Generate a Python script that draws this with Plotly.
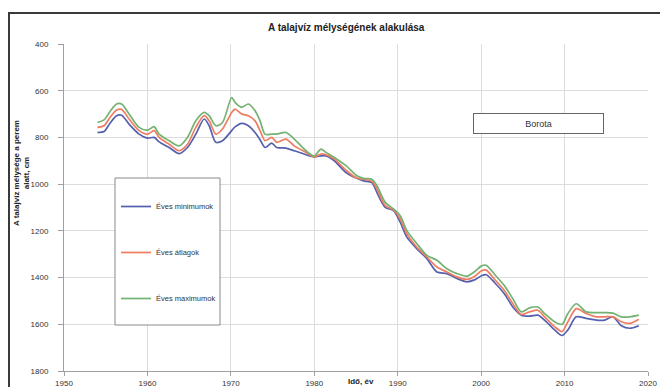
import plotly.graph_objects as go

years = [1954.0, 1954.8, 1955.5, 1956.3, 1956.9, 1957.8, 1959.0, 1960.0, 1960.8, 1961.4,
         1962.6, 1963.8, 1964.8, 1965.8, 1966.8, 1967.4, 1968.2, 1969.0, 1970.1, 1970.5,
         1971.3, 1972.1, 1972.9, 1973.5, 1974.1, 1974.9, 1975.5, 1976.6, 1977.6, 1979.0,
         1980.0, 1980.8, 1981.4, 1982.4, 1983.8, 1985.1, 1985.9, 1986.9, 1987.5, 1988.5,
         1989.5, 1990.3, 1991.1, 1992.3, 1993.5, 1994.7, 1995.9, 1997.1, 1998.3, 1999.2,
         2000.0, 2000.6, 2001.6, 2002.8, 2003.8, 2004.8, 2005.8, 2006.8, 2007.6, 2008.8,
         2009.7, 2010.4, 2011.4, 2012.6, 2013.8, 2014.8, 2015.8, 2016.8, 2017.8, 2018.9]

eves_minimumok = [779, 775, 740, 707, 705, 743, 786, 803, 800, 819,
                  843, 869, 843, 786, 721, 750, 821, 814, 771, 755,
                  740, 750, 779, 810, 843, 824, 843, 846, 857, 874,
                  883, 879, 879, 900, 950, 975, 986, 993, 1035, 1099,
                  1113, 1163, 1227, 1277, 1319, 1376, 1383, 1404, 1418, 1410,
                  1393, 1388, 1421, 1470, 1526, 1561, 1565, 1561, 1582, 1624,
                  1648, 1624, 1568, 1575, 1582, 1582, 1568, 1606, 1617, 1606]

eves_atlagok = [757, 750, 715, 683, 680, 721, 771, 786, 771, 800,
                829, 857, 829, 757, 707, 729, 786, 764, 693, 679,
                700, 707, 729, 771, 814, 800, 821, 807, 836, 864,
                883, 871, 874, 893, 940, 975, 979, 988, 1020, 1092,
                1110, 1149, 1213, 1270, 1312, 1355, 1376, 1397, 1408, 1395,
                1372, 1368, 1407, 1456, 1512, 1558, 1547, 1540, 1568, 1610,
                1631, 1589, 1533, 1554, 1568, 1568, 1568, 1589, 1596, 1578]

eves_maximumok = [736, 725, 690, 657, 657, 700, 757, 769, 754, 786,
                  814, 836, 800, 729, 693, 707, 750, 736, 629, 650,
                  671, 657, 686, 729, 786, 786, 786, 779, 807, 857,
                  879, 850, 864, 886, 921, 964, 975, 979, 1006, 1078,
                  1106, 1135, 1199, 1255, 1305, 1326, 1362, 1383, 1394, 1375,
                  1351, 1347, 1386, 1435, 1491, 1547, 1530, 1526, 1554, 1589,
                  1600, 1554, 1512, 1547, 1550, 1550, 1552, 1568, 1568, 1561]

series_names = ["Éves minimumok", "Éves átlagok", "Éves maximumok"]
series_values = [eves_minimumok, eves_atlagok, eves_maximumok]
colors = ["#5560ae", "#f07c60", "#74b272"]

x_ticks = [1950, 1960, 1970, 1980, 1990, 2000, 2010, 2020]
y_ticks = [400, 600, 800, 1000, 1200, 1400, 1600, 1800]

FONT = "Liberation Sans, Arial, sans-serif"

# plot area in pixels: x 64..648, y 44..371
L, R, T, B = 64, 12, 44, 16
W, H = 660, 387
PW, PH = W - L - R, H - T - B


def px_x(p):
    return (p - L) / PW


def px_y(p):
    return (H - B - p) / PH


fig = go.Figure()
for i, (name, vals, col) in enumerate(zip(series_names, series_values, colors)):
    fig.add_trace(go.Scatter(
        x=years, y=vals, name=name, mode="lines",
        line=dict(color=col, width=1.7, shape="spline", smoothing=0.8),
        legendgroup=f"g{i}",
    ))

fig.update_layout(
    width=W, height=H,
    margin=dict(l=L, r=R, t=T, b=B, autoexpand=False),
    paper_bgcolor="white", plot_bgcolor="white",
    font=dict(family=FONT, size=8, color="#333333"),
    showlegend=True,
    legend=dict(
        x=px_x(116), y=px_y(192), xanchor="left", yanchor="top",
        borderwidth=0, bgcolor="rgba(0,0,0,0)",
        font=dict(size=7.5, color="#333333"),
        tracegroupgap=27, itemwidth=30,
    ),
)

fig.update_xaxes(
    range=[1950, 2020], tickvals=x_ticks, ticktext=[str(v) for v in x_ticks],
    showgrid=True, gridcolor="#dcdcdc", gridwidth=1,
    showline=True, linecolor="#a0a0a0", linewidth=1,
    ticks="outside", ticklen=4, tickcolor="#a0a0a0",
    zeroline=False, automargin=False,
    tickfont=dict(size=8, color="#333333"),
)
fig.update_yaxes(
    range=[1800, 400], tickvals=y_ticks, ticktext=[str(v) for v in y_ticks],
    showgrid=True, gridcolor="#dcdcdc", gridwidth=1,
    showline=True, linecolor="#a0a0a0", linewidth=1,
    ticks="outside", ticklen=5, tickcolor="#a0a0a0",
    ticklabelstandoff=8,
    zeroline=False, automargin=False,
    tickfont=dict(size=8, color="#333333"),
)

# outer chart frame
fig.add_shape(type="rect", xref="paper", yref="paper",
              x0=px_x(9), x1=px_x(667), y0=px_y(392), y1=px_y(13),
              line=dict(color="#3a3a3a", width=2), layer="below")

# legend frame
fig.add_shape(type="rect", xref="paper", yref="paper",
              x0=px_x(115), x1=px_x(220), y0=px_y(325), y1=px_y(178),
              line=dict(color="#8a8a8a", width=1), fillcolor="white",
              layer="above")

# title
fig.add_annotation(text="<b>A talajvíz mélységének alakulása</b>",
                   xref="paper", yref="paper", x=px_x(346), y=px_y(27),
                   xanchor="center", yanchor="middle",
                   showarrow=False, font=dict(size=10, color="#222222"))

# y axis title
fig.add_annotation(text="<b>A talajvíz mélysége a perem<br>alatt, cm</b>",
                   xref="paper", yref="paper", x=px_x(21), y=px_y(173),
                   xanchor="center", yanchor="middle",
                   textangle=-90, showarrow=False,
                   font=dict(size=8, color="#222222"))

# x axis title
fig.add_annotation(text="<b>Idő, év</b>",
                   xref="paper", yref="paper", x=px_x(361), y=px_y(381),
                   xanchor="center", yanchor="middle", showarrow=False,
                   font=dict(size=8, color="#222222"))

# Borota label box
fig.add_annotation(text="Borota",
                   xref="paper", yref="paper", x=px_x(538), y=px_y(123),
                   xanchor="center", yanchor="middle",
                   showarrow=False, width=125, height=15,
                   bordercolor="#666666", borderwidth=1, borderpad=2,
                   bgcolor="white", font=dict(size=9, color="#333333"))

fig.write_html("out.html", config={"displayModeBar": False},
               post_script="document.body.style.margin='0px';")
